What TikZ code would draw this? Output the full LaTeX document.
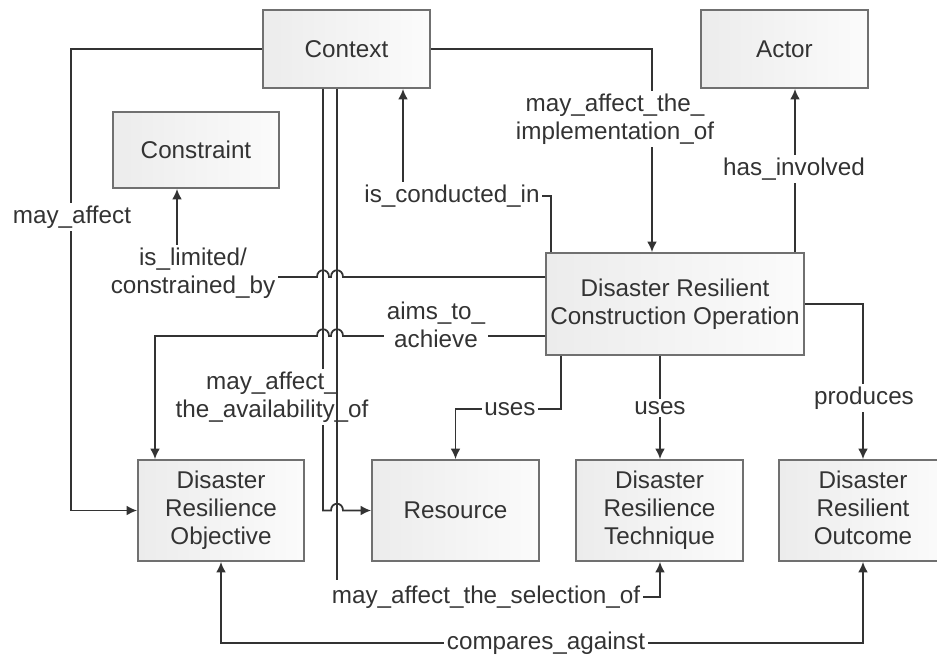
\documentclass[tikz,border=0pt]{standalone}
\usepackage{fontspec}
\setmainfont{Liberation Sans}
\usetikzlibrary{arrows.meta}
\definecolor{ink}{HTML}{333333}
\definecolor{rim}{HTML}{707070}
\tikzstyle{concept} = [rectangle, minimum width=3.34cm, minimum height=1.56cm, align=center, draw=rim, line width=1pt, left color=gray!15, right color=gray!3, text=ink, inner sep=1pt, font=\fontsize{13.8}{16}\selectfont]
\tikzstyle{lbl} = [fill=white, align=center, inner sep=1.5pt, text=ink, font=\fontsize{13.8}{16}\selectfont]
\tikzstyle{arrow} = [draw=ink, line width=1pt, ->, >={Latex[length=6pt,width=5.6pt]}]

\begin{document}
\begin{tikzpicture}[x=0.02cm, y=-0.02cm]
\useasboundingbox (0,0) rectangle (937,657);

\node (context) [concept] at (346.5,49) {Context};
\node (actor) [concept] at (784.5,49) {Actor};
\node (constraint) [concept, minimum width=3.32cm, minimum height=1.52cm] at (196,150) {Constraint};
\node (drco) [concept, minimum width=5.16cm, minimum height=2.04cm] at (675,304) {Disaster Resilient\\Construction Operation};
\node (objective) [concept, minimum width=3.32cm, minimum height=2.02cm] at (221,510.5) {Disaster\\Resilience\\Objective};
\node (resource) [concept, minimum height=2.02cm] at (455.5,510.5) {Resource};
\node (technique) [concept, minimum height=2.02cm] at (659.5,510.5) {Disaster\\Resilience\\Technique};
\node (outcome) [concept, minimum width=3.36cm, minimum height=2.02cm] at (863,510.5) {Disaster\\Resilient\\Outcome\vphantom{q}};

\draw [arrow] (context.west) -- (context.west -| 71,0) |- (objective.west);
\draw [arrow] (context.east) -| (drco.north -| 652,0);
\draw [arrow] (drco.north -| 551,0) |- (403,196) -- (context.south -| 403,0);
\draw [arrow] (drco.north -| 795,0) -- (actor.south -| 795,0);
\draw [arrow] (drco.west |- 0,277) -- (343,277) .. controls (343,268) and (331,268) .. (331,277)
  -- (329,277) .. controls (329,268) and (317,268) .. (317,277) -- (177,277) -- (constraint.south -| 177,0);
\draw [arrow] (drco.west |- 0,336) -- (343,336) .. controls (343,327) and (331,327) .. (331,336)
  -- (329,336) .. controls (329,327) and (317,327) .. (317,336) -- (155,336) -- (objective.north -| 155,0);
\draw [arrow] (context.south -| 323,0) -- (323,510.5) -- (331,510.5) .. controls (331,501.5) and (343,501.5) .. (343,510.5) -- (resource.west);
\draw [arrow] (drco.south -| 561,0) |- (455.5,409) -- (resource.north);
\draw [arrow] (drco.south -| 660,0) -- (technique.north -| 660,0);
\draw [arrow] (drco.east) -| (outcome.north);
\draw [arrow, <->] (objective.south) |- (546,643) -| (outcome.south);

\node (l-affect) [lbl] at (72,217) {may\_affect};
\node (l-impl) [lbl] at (615,119) {may\_affect\_the\_\\implementation\_of};
\node (l-conducted) [lbl] at (452,196) {is\_conducted\_in};
\node (l-involved) [lbl] at (794,169) {has\_involved};
\node (l-limited) [lbl] at (193,273) {is\_limited/\\constrained\_by};
\node (l-aims) [lbl] at (436,325) {aims\_to\_\\achieve};
\node (l-avail) [lbl] at (272,397) {may\_affect\_\\the\_availability\_of};
\node (l-uses1) [lbl] at (510,409) {uses};
\node (l-uses2) [lbl] at (660,408) {uses};
\node (l-produces) [lbl] at (864,398) {produces};
\node (l-compares) [lbl] at (546,643) {compares\_against};
\node (l-select) [lbl] at (486,597) {may\_affect\_the\_selection\_of};

\draw [arrow] (context.south -| 337,0) -- (337,580) (l-select.east) -| (technique.south -| 660,0);

\end{tikzpicture}
\end{document}
